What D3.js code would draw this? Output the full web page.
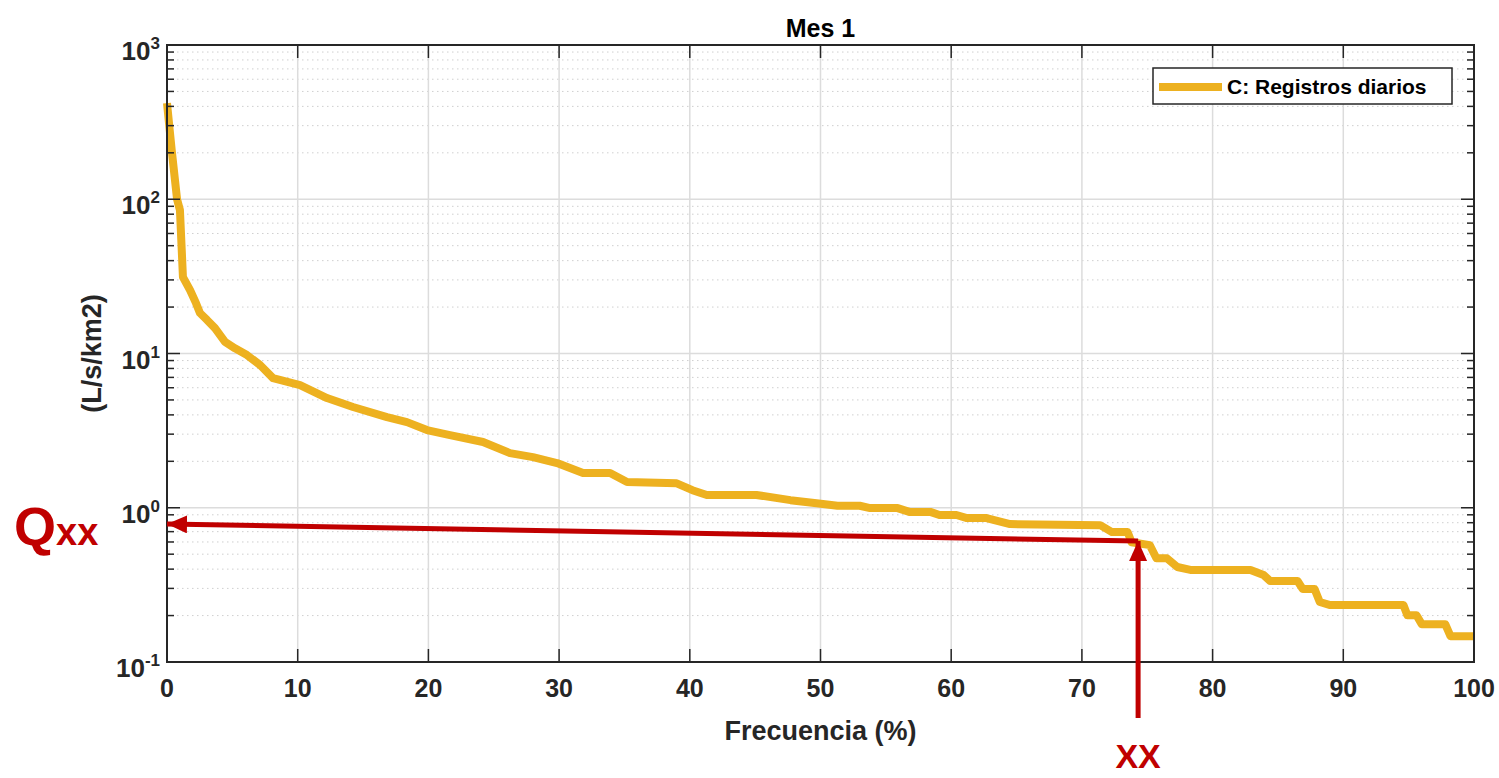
<!DOCTYPE html>
<html>
<head>
<meta charset="utf-8">
<script src="https://cdn.jsdelivr.net/npm/d3@7"></script>
<style>
  body { margin: 0; background: #fff; }
  text { font-family: "Liberation Sans", Arial, sans-serif; }
</style>
</head>
<body>
<div id="chart"></div>
<script>
// curva de duracion, mes 1
const frecuencia = [0, 0.36, 0.77, 0.99, 1.22, 1.76, 2.22, 2.52, 3.06, 3.67, 4.44, 5.2, 6.12, 7.12, 8.11,
    10.18, 12.24, 14.23, 16.83, 18.36, 19.89, 21.65, 24.18, 26.24, 28.0, 29.84, 31.83, 33.9, 35.2, 39.0,
    40.2, 41.3, 45.1, 47.7, 49.7, 51.3, 53.0, 53.8, 55.9, 56.8, 58.4, 59.1, 60.4, 61.2, 62.7, 64.5,
    71.4, 72.3, 73.5, 73.8, 75.2, 75.7, 76.5, 77.3, 78.3, 82.9, 83.9, 84.4, 86.5, 86.9, 87.8, 88.2,
    89.0, 94.6, 94.9, 95.6, 96.0, 97.8, 98.2, 100];
const caudal = [420, 208, 100, 85, 31.3, 25.8, 21.2, 18.3, 16.5, 14.6, 11.9, 10.8, 9.77, 8.42, 6.93,
    6.24, 5.14, 4.50, 3.87, 3.59, 3.19, 2.96, 2.67, 2.26, 2.13, 1.95, 1.68, 1.68, 1.47, 1.44,
    1.30, 1.21, 1.21, 1.12, 1.07, 1.03, 1.03, 0.995, 0.995, 0.94, 0.94, 0.897, 0.897, 0.857, 0.857, 0.784,
    0.771, 0.695, 0.695, 0.598, 0.572, 0.471, 0.471, 0.413, 0.395, 0.395, 0.366, 0.335, 0.335, 0.297, 0.297, 0.245,
    0.234, 0.234, 0.201, 0.201, 0.176, 0.176, 0.147, 0.147];

const xTicks = [0, 10, 20, 30, 40, 50, 60, 70, 80, 90, 100];
const yExp = [-1, 0, 1, 2, 3];

// flechas: [desde, hasta] en coordenadas de datos
const flechaQ = [[74.3, 0.608], [0, 0.784]];
const flechaX = [[74.3, 0.0434], [74.3, 0.608]];

const serieNombre = "C: Registros diarios";
const titulo = "Mes 1";
const xLabel = "Frecuencia (%)";
const yLabel = "(L/s/km2)";

function init() {
    let w = 1499;
    let h = 778;
    let left = 167, right = 1474, top = 45, bottom = 662;

    let svg = d3.select("#chart")
        .append("svg")
        .attr("width", w)
        .attr("height", h);

    let x = d3.scaleLinear().domain([0, 100]).range([left, right]);
    let y = d3.scaleLog().domain([0.1, 1000]).range([bottom, top]);

    let axisColor = "#262626";

    // minor ticks values 2..9 per decade
    let minors = [];
    for (let e = -1; e < 3; e++) {
        for (let k = 2; k <= 9; k++) minors.push(k * Math.pow(10, e));
    }
    let majors = yExp.map(e => Math.pow(10, e));

    // grid
    let grid = svg.append("g");
    grid.selectAll(".ymin")
        .data(minors)
        .enter()
        .append("line")
        .attr("x1", left).attr("x2", right)
        .attr("y1", d => y(d)).attr("y2", d => y(d))
        .attr("stroke", "#cfcfcf")
        .attr("stroke-width", 1)
        .attr("stroke-dasharray", "1.5,3.5");
    grid.selectAll(".ymaj")
        .data(majors)
        .enter()
        .append("line")
        .attr("x1", left).attr("x2", right)
        .attr("y1", d => y(d)).attr("y2", d => y(d))
        .attr("stroke", "#dcdcdc")
        .attr("stroke-width", 1.5);
    grid.selectAll(".xmaj")
        .data(xTicks)
        .enter()
        .append("line")
        .attr("x1", d => x(d)).attr("x2", d => x(d))
        .attr("y1", top).attr("y2", bottom)
        .attr("stroke", "#dcdcdc")
        .attr("stroke-width", 1.5);

    // curve
    let datos = frecuencia.map((f, i) => [f, caudal[i]]);
    let line = d3.line()
        .x(d => x(d[0]))
        .y(d => y(d[1]));
    svg.append("path")
        .datum(datos)
        .attr("d", line)
        .attr("fill", "none")
        .attr("stroke", "#EDB120")
        .attr("stroke-width", 8)
        .attr("stroke-linejoin", "round")
        .attr("stroke-linecap", "butt");

    // ticks
    let ticks = svg.append("g").attr("stroke", axisColor).attr("stroke-width", 1.5);
    xTicks.forEach(t => {
        ticks.append("line").attr("x1", x(t)).attr("x2", x(t)).attr("y1", bottom).attr("y2", bottom - 13);
        ticks.append("line").attr("x1", x(t)).attr("x2", x(t)).attr("y1", top).attr("y2", top + 13);
    });
    majors.forEach(t => {
        ticks.append("line").attr("x1", left).attr("x2", left + 13).attr("y1", y(t)).attr("y2", y(t));
        ticks.append("line").attr("x1", right).attr("x2", right - 13).attr("y1", y(t)).attr("y2", y(t));
    });
    minors.forEach(t => {
        ticks.append("line").attr("x1", left).attr("x2", left + 7).attr("y1", y(t)).attr("y2", y(t));
        ticks.append("line").attr("x1", right).attr("x2", right - 7).attr("y1", y(t)).attr("y2", y(t));
    });

    // box
    svg.append("rect")
        .attr("x", left).attr("y", top)
        .attr("width", right - left).attr("height", bottom - top)
        .attr("fill", "none")
        .attr("stroke", axisColor)
        .attr("stroke-width", 2);

    // tick labels
    svg.selectAll(".xl")
        .data(xTicks)
        .enter()
        .append("text")
        .attr("x", d => x(d))
        .attr("y", bottom + 35)
        .attr("text-anchor", "middle")
        .attr("font-size", 25)
        .attr("font-weight", "bold")
        .attr("fill", axisColor)
        .text(d => d);

    let yl = svg.selectAll(".yl")
        .data(yExp)
        .enter()
        .append("text")
        .attr("x", 160)
        .attr("y", d => y(Math.pow(10, d)) + 15)
        .attr("text-anchor", "end")
        .attr("font-size", 26)
        .attr("font-weight", "bold")
        .attr("fill", axisColor);
    yl.append("tspan").text("10");
    yl.append("tspan")
        .attr("dy", -11)
        .attr("font-size", 17)
        .text(d => d);

    // labels
    svg.append("text")
        .attr("x", (left + right) / 2)
        .attr("y", 37)
        .attr("text-anchor", "middle")
        .attr("font-size", 25)
        .attr("font-weight", "bold")
        .attr("fill", "#000")
        .text(titulo);
    svg.append("text")
        .attr("x", (left + right) / 2)
        .attr("y", 740)
        .attr("text-anchor", "middle")
        .attr("font-size", 27)
        .attr("font-weight", "bold")
        .attr("fill", axisColor)
        .text(xLabel);
    svg.append("text")
        .attr("transform", "translate(101," + ((top + bottom) / 2) + ") rotate(-90)")
        .attr("text-anchor", "middle")
        .attr("font-size", 27)
        .attr("font-weight", "bold")
        .attr("fill", axisColor)
        .text(yLabel);

    // arrows
    let rojo = "#C00000";
    let defs = svg.append("defs");
    defs.append("marker")
        .attr("id", "head")
        .attr("markerUnits", "userSpaceOnUse")
        .attr("viewBox", "0 0 20 18")
        .attr("refX", 20).attr("refY", 9)
        .attr("markerWidth", 20).attr("markerHeight", 18)
        .attr("orient", "auto")
        .append("path")
        .attr("d", "M0,0 L20,9 L0,18 Z")
        .attr("fill", rojo);

    [flechaQ, flechaX].forEach(f => {
        svg.append("line")
            .attr("x1", x(f[0][0])).attr("y1", y(f[0][1]))
            .attr("x2", x(f[1][0])).attr("y2", y(f[1][1]))
            .attr("stroke", rojo)
            .attr("stroke-width", 5)
            .attr("marker-end", "url(#head)");
    });

    let q = svg.append("text")
        .attr("x", 14)
        .attr("y", 545)
        .attr("font-weight", "bold")
        .attr("fill", rojo);
    q.append("tspan").attr("font-size", 54).text("Q");
    q.append("tspan").attr("font-size", 38).text("xx");

    svg.append("text")
        .attr("x", x(flechaX[0][0]))
        .attr("y", 768)
        .attr("text-anchor", "middle")
        .attr("font-size", 34)
        .attr("font-weight", "bold")
        .attr("fill", rojo)
        .text("XX");

    // legend
    let lg = svg.append("g").attr("transform", "translate(" + (right - 321) + "," + (top + 23) + ")");
    lg.append("rect")
        .attr("width", 299).attr("height", 36)
        .attr("fill", "#fff")
        .attr("stroke", axisColor)
        .attr("stroke-width", 1.5);
    lg.append("line")
        .attr("x1", 6).attr("x2", 69)
        .attr("y1", 19).attr("y2", 19)
        .attr("stroke", "#EDB120")
        .attr("stroke-width", 8);
    lg.append("text")
        .attr("x", 74)
        .attr("y", 26)
        .attr("font-size", 21)
        .attr("font-weight", "bold")
        .attr("fill", "#000")
        .text(serieNombre);
}

window.onload = init;
</script>
</body>
</html>
